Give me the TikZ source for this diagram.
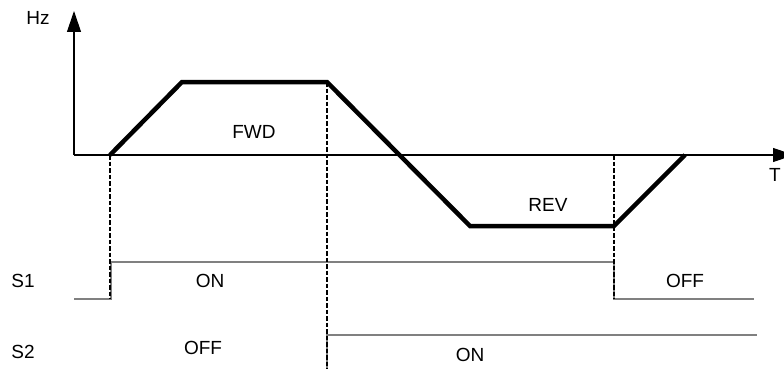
\documentclass[tikz,border=0pt]{standalone}
\usepackage{fontspec}
\setmainfont{Liberation Sans}
\usetikzlibrary{arrows.meta}
\definecolor{axisgray}{HTML}{505050}
\definecolor{siggray}{HTML}{808080}
\tikzset{
  axisline/.style={draw=axisgray, line width=1.1pt},
  axisarrow/.style={-{Triangle[length=21pt,width=14pt]}, draw=black, line width=1.1pt},
  speed/.style={draw=black, line width=4.5pt, line join=miter, line cap=butt},
  sig/.style={draw=siggray, line width=1.6pt},
  guide/.style={draw=black, line width=1.4pt, dash pattern=on 4.5pt off 2pt},
  lbl/.style={font=\fontsize{19}{22}\selectfont, inner sep=0pt}
}
\begin{document}
\begin{tikzpicture}[x=1pt,y=-1pt]
\useasboundingbox (0,0) rectangle (784,369);
% coordinates
\coordinate (O) at (74,155);
\coordinate (Ytip) at (74,11);
\coordinate (Xtip) at (794,155);
\coordinate (p0) at (110,155);
\coordinate (p1) at (182,82);
\coordinate (p2) at (327,82);
\coordinate (p3) at (470,226);
\coordinate (p4) at (614,226);
\coordinate (p5) at (685,155);
\coordinate (g1a) at (110,155);
\coordinate (g1b) at (110,299);
\coordinate (g2a) at (327,82);
\coordinate (g2b) at (327,369);
\coordinate (g3a) at (614,155);
\coordinate (g3b) at (614,299);
\coordinate (s1a) at (74,299);
\coordinate (s1b) at (111,299);
\coordinate (s1c) at (111,262);
\coordinate (s1d) at (614,262);
\coordinate (s1e) at (614,299);
\coordinate (s1f) at (754,299);
\coordinate (s2a) at (327,369);
\coordinate (s2b) at (327,335);
\coordinate (s2c) at (757,335);
% axes
\draw[axisarrow] (O) -- (Ytip);
\draw[axisarrow] (O) -- (Xtip);
% signals
\draw[sig] (s1a) -- (s1b) -- (s1c) -- (s1d) -- (s1e) -- (s1f);
\draw[sig] (s2a) -- (s2b) -- (s2c);
% guides
\draw[guide] (g1a) -- (g1b);
\draw[guide] (g2a) -- (g2b);
\draw[guide] (g3a) -- (g3b);
% speed profile
\draw[speed] (p0) -- (p1) -- (p2) -- (p3) -- (p4) -- (p5);
% labels
\node[lbl] (hz) at (38,18) {Hz};
\node[lbl] (t) at (775,175) {T};
\node[lbl] (fwd) at (254,132) {FWD};
\node[lbl] (rev) at (548,205) {REV};
\node[lbl] (s1) at (23,281) {S1};
\node[lbl] (s2) at (23,352) {S2};
\node[lbl] (on1) at (210,281) {ON};
\node[lbl] (off1) at (685,281) {OFF};
\node[lbl] (off2) at (203,348) {OFF};
\node[lbl] (on2) at (470,355) {ON};
\end{tikzpicture}
\end{document}
